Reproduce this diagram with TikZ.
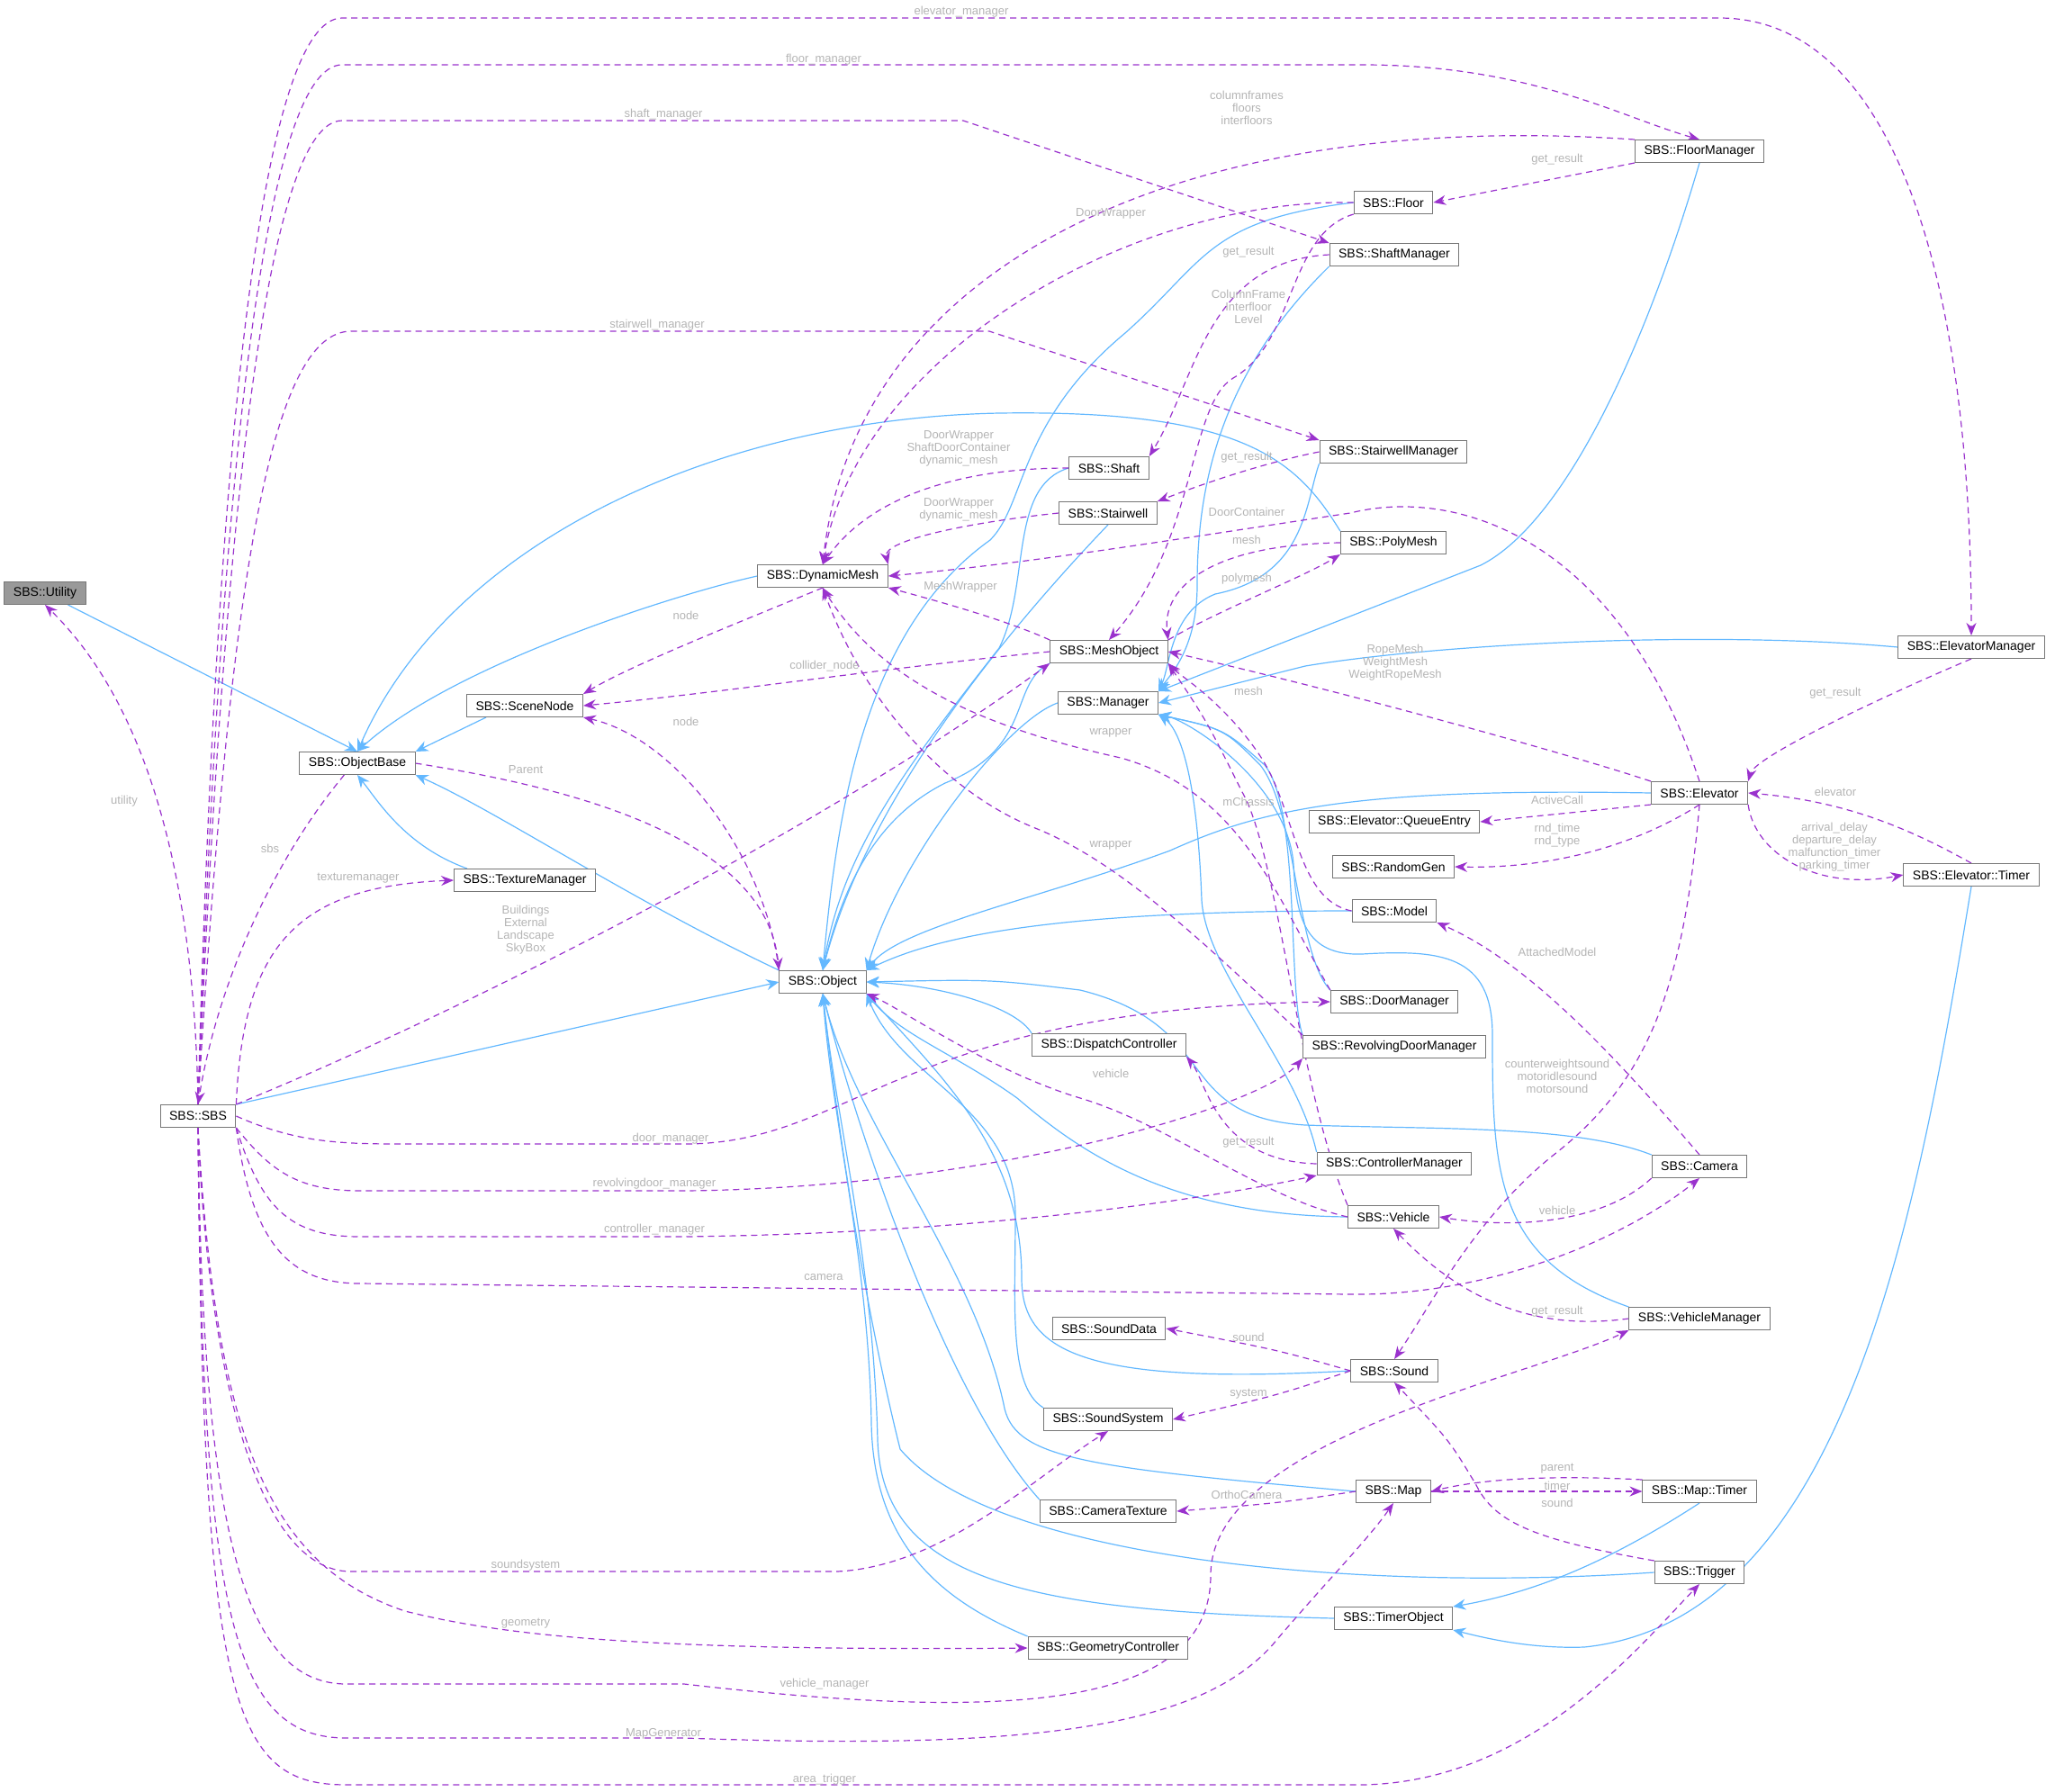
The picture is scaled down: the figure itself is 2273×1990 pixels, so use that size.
\documentclass[tikz,border=0pt]{standalone}
\usepackage{fontspec}
\setmainfont{Liberation Sans}
\usetikzlibrary{arrows.meta}
\pgfdeclarelayer{bg}
\pgfsetlayers{bg,main}
\definecolor{inh}{HTML}{63B8FF}
\definecolor{use}{HTML}{9A32CD}
\definecolor{lblc}{HTML}{B4B4B4}
\definecolor{bord}{HTML}{777777}
\tikzset{
 cls/.style={draw=bord,line width=1pt,fill=white,font=\fontsize{14}{16}\selectfont,minimum height=25pt,inner xsep=10pt,inner ysep=2pt},
 inhe/.style={draw=inh,line width=1.2pt,-{Stealth[length=14pt,width=12pt,fill=inh]}},
 usee/.style={draw=use,line width=1.2pt,dash pattern=on 7pt off 5pt,-{Stealth[length=14pt,width=11pt,fill=use]}},
 lbl/.style={font=\fontsize{13}{14}\selectfont,text=lblc,align=center,inner sep=0pt}
}
\begin{document}
\begin{tikzpicture}[x=1pt,y=-1pt]
\useasboundingbox (0,0) rectangle (2273,1990);
% nodes
\node[cls,fill=bord!75] (Utility) at (50,659) {SBS::Utility};
\node[cls] (ObjectBase) at (397,848) {SBS::ObjectBase};
\node[cls] (SBS) at (220,1240) {SBS::SBS};
\node[cls] (SceneNode) at (583,784) {SBS::SceneNode};
\node[cls] (TextureManager) at (583,978) {SBS::TextureManager};
\node[cls] (DynamicMesh) at (914,640) {SBS::DynamicMesh};
\node[cls] (Object) at (914,1091) {SBS::Object};
\node[cls] (MeshObject) at (1232,724) {SBS::MeshObject};
\node[cls] (Manager) at (1231,781) {SBS::Manager};
\node[cls] (Floor) at (1548,225) {SBS::Floor};
\node[cls] (ShaftManager) at (1549,283) {SBS::ShaftManager};
\node[cls] (Shaft) at (1232,520) {SBS::Shaft};
\node[cls] (Stairwell) at (1231,570) {SBS::Stairwell};
\node[cls] (StairwellManager) at (1548,502) {SBS::StairwellManager};
\node[cls] (PolyMesh) at (1548,603) {SBS::PolyMesh};
\node[cls] (FloorManager) at (1888,168) {SBS::FloorManager};
\node[cls] (ElevatorManager) at (2190,719) {SBS::ElevatorManager};
\node[cls] (Elevator) at (1888,881) {SBS::Elevator};
\node[cls] (QueueEntry) at (1549,913) {SBS::Elevator::QueueEntry};
\node[cls] (RandomGen) at (1548,963) {SBS::RandomGen};
\node[cls] (ElevTimer) at (2190,972) {SBS::Elevator::Timer};
\node[cls] (Model) at (1549,1012) {SBS::Model};
\node[cls] (DoorManager) at (1549,1113) {SBS::DoorManager};
\node[cls] (DispatchController) at (1232,1161) {SBS::DispatchController};
\node[cls] (RevDoorManager) at (1549,1163) {SBS::RevolvingDoorManager};
\node[cls] (ControllerManager) at (1549,1293) {SBS::ControllerManager};
\node[cls] (Camera) at (1888,1296) {SBS::Camera};
\node[cls] (Vehicle) at (1548,1352) {SBS::Vehicle};
\node[cls] (VehicleManager) at (1888,1465) {SBS::VehicleManager};
\node[cls] (SoundData) at (1232,1476) {SBS::SoundData};
\node[cls] (Sound) at (1549,1523) {SBS::Sound};
\node[cls] (SoundSystem) at (1231,1577) {SBS::SoundSystem};
\node[cls] (Map) at (1548,1657) {SBS::Map};
\node[cls] (MapTimer) at (1888,1657) {SBS::Map::Timer};
\node[cls] (CameraTexture) at (1231,1679) {SBS::CameraTexture};
\node[cls] (Trigger) at (1888,1747) {SBS::Trigger};
\node[cls] (TimerObject) at (1548,1798) {SBS::TimerObject};
\node[cls] (GeometryController) at (1231,1831) {SBS::GeometryController};

\begin{pgfonlayer}{bg}
% ---------- inheritance ----------
\draw[inhe] (Utility.south east) ++(-20,0) coordinate (u1) (u1) -- (ObjectBase.north);
\draw[inhe] (SceneNode.south west) ++(22,0) coordinate (s1) (s1) -- (ObjectBase.north east);
\draw[inhe] (TextureManager.north west) ++(15,0) coordinate (t1) (t1) .. controls (450,940) and (420,890) .. (ObjectBase.south);
\draw[inhe] (DynamicMesh.west) .. controls (750,660) and (500,740) .. (ObjectBase.north);
\draw[inhe] (PolyMesh.north west) .. controls (1440,510) and (1380,455) .. (1110,459) .. controls (800,465) and (500,600) .. (ObjectBase.north);
\draw[inhe] (Object.north west) .. controls (700,1000) and (550,900) .. (ObjectBase.south east);
\draw[inhe] (SBS.north east) -- (Object.west);
\draw[inhe] (Floor.west) .. controls (1340,245) and (1340,290) .. (1250,370) .. controls (1130,470) and (1140,560) .. (1100,600) .. controls (960,700) and (930,900) .. (Object.north);
\draw[inhe] (Shaft.west) .. controls (1120,540) and (1145,650) .. (1110,720) .. controls (1000,860) and (935,950) .. (Object.north);
\draw[inhe] (Stairwell.south) .. controls (1100,720) and (960,900) .. (Object.north);
\draw[inhe] (MeshObject.south west) .. controls (1120,760) and (1150,830) .. (1050,870) .. controls (970,910) and (935,990) .. (Object.north);
\draw[inhe] (Manager.west) .. controls (1120,800) and (1000,950) .. (Object.north east);
\draw[inhe] (Elevator.west) .. controls (1500,875) and (1400,900) .. (1300,945) .. controls (1150,1000) and (1000,1030) .. (Object.north east);
\draw[inhe] (Model.west) .. controls (1200,1012) and (1050,1035) .. (Object.north east);
\draw[inhe] (DispatchController.north west) .. controls (1130,1120) and (1050,1095) .. (Object.east);
\draw[inhe] (Camera.north west) .. controls (1750,1250) and (1600,1255) .. (1450,1250) .. controls (1300,1240) and (1360,1140) .. (1200,1100) .. controls (1100,1088) .. (Object.east);
\draw[inhe] (Vehicle.west) .. controls (1300,1350) and (1200,1280) .. (1130,1220) .. controls (1060,1170) and (1000,1150) .. (Object.south east);
\draw[inhe] (Sound.west) .. controls (1200,1540) and (1135,1500) .. (1135,1420) .. controls (1135,1280) and (1050,1200) .. (Object.south east);
\draw[inhe] (SoundSystem.north west) .. controls (1120,1540) and (1128,1450) .. (1128,1350) .. controls (1128,1230) and (1000,1200) .. (Object.south east);
\draw[inhe] (CameraTexture.north west) .. controls (1050,1550) and (950,1250) .. (Object.south);
\draw[inhe] (Map.west) .. controls (1200,1630) and (1125,1620) .. (1115,1560) .. controls (1080,1400) and (950,1250) .. (Object.south);
\draw[inhe] (Trigger.west) .. controls (1500,1770) and (1100,1730) .. (1000,1610) .. controls (960,1450) and (930,1250) .. (Object.south);
\draw[inhe] (TimerObject.west) .. controls (1150,1790) and (980,1760) .. (975,1600) .. controls (970,1400) and (930,1250) .. (Object.south);
\draw[inhe] (GeometryController.north west) .. controls (1050,1780) and (970,1720) .. (968,1580) .. controls (965,1400) and (925,1250) .. (Object.south);
\draw[inhe] (ShaftManager.south west) .. controls (1350,420) and (1330,550) .. (1330,650) .. controls (1330,720) and (1300,750) .. (Manager.north east);
\draw[inhe] (StairwellManager.south west) .. controls (1450,560) and (1450,640) .. (1350,660) .. controls (1300,680) and (1300,740) .. (Manager.north east);
\draw[inhe] (FloorManager.south) .. controls (1830,380) and (1740,580) .. (1645,628) -- (Manager.north east);
\draw[inhe] (ElevatorManager.west) .. controls (1900,700) and (1600,715) .. (1450,740) -- (Manager.east);
\draw[inhe] (DoorManager.north west) .. controls (1440,1060) and (1440,900) .. (1400,850) .. controls (1360,810) .. (Manager.south east);
\draw[inhe] (RevDoorManager.north west) .. controls (1430,1100) and (1445,900) .. (1405,850) .. controls (1360,810) .. (Manager.south east);
\draw[inhe] (ControllerManager.north west) .. controls (1440,1180) and (1340,1080) .. (1335,1000) .. controls (1330,860) and (1310,810) .. (Manager.south east);
\draw[inhe] (VehicleManager.north west) .. controls (1660,1400) and (1658,1300) .. (1658,1150) .. controls (1658,1060) and (1600,1055) .. (1513,1060) .. controls (1450,1062) and (1440,1020) .. (1437,960) .. controls (1430,870) and (1320,800) .. (Manager.south east);
\draw[inhe] (MapTimer.south) .. controls (1780,1740) and (1700,1770) .. (TimerObject.north east);
\draw[inhe] (ElevTimer.south) .. controls (2130,1350) and (2050,1800) .. (1760,1830) .. controls (1700,1832) and (1650,1820) .. (TimerObject.south east);

% ---------- usage ----------
\draw[usee] (SBS.north) .. controls (215,900) and (130,750) .. (Utility.south);
\draw[usee] (ObjectBase.south west) ++(50,0) coordinate (o1) (o1) .. controls (300,960) and (240,1100) .. (SBS.north);
\draw[usee] (SBS.north) .. controls (240,500) and (290,20) .. (380,20) -- (1910,20) .. controls (2100,20) and (2190,300) .. (ElevatorManager.north);
\draw[usee] (SBS.north) .. controls (245,520) and (295,72) .. (380,72) -- (1513,72) .. controls (1700,72) and (1800,130) .. (FloorManager.north);
\draw[usee] (SBS.north) .. controls (250,540) and (300,134) .. (380,134) -- (1070,134) -- (ShaftManager.north west);
\draw[usee] (SBS.north) .. controls (255,650) and (300,368) .. (390,368) -- (1099,368) -- (StairwellManager.north west);
\draw[usee] (SBS.north east) .. controls (270,1050) and (330,985) .. (TextureManager.west);
\draw[usee] (SBS.north east) .. controls (500,1130) and (900,930) .. (MeshObject.south west);
\draw[usee] (SBS.east) .. controls (330,1270) and (380,1271) .. (450,1271) -- (760,1271) .. controls (950,1271) and (1000,1120) .. (DoorManager.west);
\draw[usee] (SBS.south east) .. controls (300,1300) and (330,1323) .. (400,1323) -- (760,1323) .. controls (1100,1320) and (1400,1230) .. (RevDoorManager.south west);
\draw[usee] (SBS.south east) .. controls (290,1340) and (320,1374) .. (400,1374) -- (760,1374) .. controls (1100,1370) and (1350,1330) .. (ControllerManager.south west);
\draw[usee] (SBS.south east) .. controls (280,1380) and (320,1426) .. (400,1426) -- (1500,1438) .. controls (1650,1440) and (1800,1380) .. (Camera.south);
\draw[usee] (SBS.south) .. controls (230,1500) and (280,1746) .. (390,1746) -- (930,1746) .. controls (1050,1740) and (1150,1640) .. (SoundSystem.south);
\draw[usee] (SBS.south) .. controls (240,1600) and (300,1740) .. (450,1790) .. controls (550,1815) and (700,1835) .. (GeometryController.west);
\draw[usee] (SBS.south) .. controls (225,1700) and (270,1871) .. (385,1871) -- (760,1871) .. controls (1100,1910) and (1345,1905) .. (1345,1750) .. controls (1345,1600) and (1700,1530) .. (VehicleManager.south west);
\draw[usee] (SBS.south) .. controls (225,1800) and (260,1931) .. (385,1931) -- (760,1931) .. controls (1150,1945) and (1340,1920) .. (1420,1820) .. controls (1480,1750) and (1520,1710) .. (Map.south);
\draw[usee] (SBS.south) .. controls (225,1900) and (260,1983) .. (385,1983) -- (1513,1983) .. controls (1700,1980) and (1820,1830) .. (Trigger.south);
\draw[usee] (FloorManager.north west) .. controls (1300,120) and (950,300) .. (DynamicMesh.north);
\draw[usee] (FloorManager.south west) -- (Floor.east);
\draw[usee] (Floor.west) .. controls (1250,220) and (950,400) .. (DynamicMesh.north);
\draw[usee] (Floor.south west) .. controls (1430,260) and (1440,380) .. (1370,420) .. controls (1320,450) and (1330,600) .. (MeshObject.north);
\draw[usee] (ShaftManager.west) .. controls (1340,290) and (1330,420) .. (Shaft.north east);
\draw[usee] (Shaft.west) .. controls (1050,520) and (960,560) .. (DynamicMesh.north);
\draw[usee] (Stairwell.west) .. controls (1080,580) and (980,600) .. (DynamicMesh.north east);
\draw[usee] (StairwellManager.west) .. controls (1400,515) and (1330,540) .. (Stairwell.north east);
\draw[usee] (Elevator.north) .. controls (1800,600) and (1620,540) .. (1500,570) .. controls (1300,600) and (1150,625) .. (DynamicMesh.east);
\draw[usee] (PolyMesh.west) .. controls (1350,605) and (1290,650) .. (MeshObject.north east);
\draw[usee] (MeshObject.north east) .. controls (1350,680) and (1450,640) .. (PolyMesh.south west);
\draw[usee] (MeshObject.north west) .. controls (1120,690) and (1050,670) .. (DynamicMesh.south east);
\draw[usee] (DynamicMesh.south) .. controls (800,700) and (700,740) .. (SceneNode.north east);
\draw[usee] (MeshObject.west) .. controls (1000,740) and (800,770) .. (SceneNode.east);
\draw[usee] (Object.north west) .. controls (850,950) and (750,820) .. (SceneNode.south east);
\draw[usee] (ObjectBase.east) .. controls (600,870) and (850,920) .. (Object.north west);
\draw[usee] (ElevatorManager.south) .. controls (2100,770) and (1950,840) .. (Elevator.north east);
\draw[usee] (Elevator.north west) .. controls (1750,840) and (1500,770) .. (MeshObject.east);
\draw[usee] (Elevator.south west) -- (QueueEntry.east);
\draw[usee] (Elevator.south) .. controls (1800,950) and (1700,965) .. (RandomGen.east);
\draw[usee] (Elevator.south east) .. controls (1950,950) and (2020,990) .. (ElevTimer.west);
\draw[usee] (ElevTimer.north) .. controls (2120,920) and (2050,890) .. (Elevator.east);
\draw[usee] (Elevator.south) .. controls (1870,1100) and (1830,1200) .. (1730,1280) .. controls (1640,1350) and (1590,1450) .. (Sound.north);
\draw[usee] (Model.west) .. controls (1440,1000) and (1440,900) .. (1400,840) .. controls (1360,780) and (1310,750) .. (MeshObject.south east);
\draw[usee] (Camera.north) .. controls (1800,1180) and (1700,1070) .. (Model.south east);
\draw[usee] (DoorManager.north west) .. controls (1420,1000) and (1380,880) .. (1245,842) .. controls (1100,810) and (980,760) .. (DynamicMesh.south);
\draw[usee] (RevDoorManager.north west) .. controls (1350,1060) and (1250,960) .. (1150,920) .. controls (1050,880) and (960,780) .. (DynamicMesh.south);
\draw[usee] (Vehicle.north west) .. controls (1440,1200) and (1420,950) .. (1380,880) .. controls (1340,800) .. (MeshObject.south east);
\draw[usee] (Vehicle.west) .. controls (1400,1330) and (1300,1250) .. (1200,1220) .. controls (1100,1190) and (1000,1120) .. (Object.south east);
\draw[usee] (ControllerManager.west) .. controls (1350,1290) and (1340,1200) .. (DispatchController.south east);
\draw[usee] (Camera.south west) .. controls (1780,1360) and (1680,1365) .. (Vehicle.east);
\draw[usee] (VehicleManager.west) .. controls (1700,1480) and (1620,1440) .. (Vehicle.south);
\draw[usee] (Sound.west) .. controls (1420,1500) .. (SoundData.east);
\draw[usee] (Sound.west) .. controls (1420,1550) .. (SoundSystem.east);
\draw[usee] (MapTimer.north west) .. controls (1750,1640) and (1660,1640) .. (Map.east);
\draw[usee] (Map.east) -- (MapTimer.west);
\draw[usee] (Map.west) .. controls (1420,1670) .. (CameraTexture.east);
\draw[usee] (Trigger.north west) .. controls (1700,1710) and (1660,1690) .. (1640,1650) .. controls (1610,1600) .. (Sound.south);
\end{pgfonlayer}

% ---------- labels ----------
\node[lbl] (L1) at (138,890) {utility};
\node[lbl] (L2) at (300,943) {sbs};
\node[lbl] (L3) at (1068,13) {elevator\_manager};
\node[lbl] (L4) at (915,66) {floor\_manager};
\node[lbl] (L5) at (737,127) {shaft\_manager};
\node[lbl] (L6) at (730,361) {stairwell\_manager};
\node[lbl] (L7) at (398,976) {texturemanager};
\node[lbl] (L8) at (584,1033) {Buildings\\External\\Landscape\\SkyBox};
\node[lbl] (L9) at (745,1265) {door\_manager};
\node[lbl] (L10) at (727,1315) {revolvingdoor\_manager};
\node[lbl] (L11) at (727,1366) {controller\_manager};
\node[lbl] (L12) at (915,1419) {camera};
\node[lbl] (L13) at (584,1739) {soundsystem};
\node[lbl] (L14) at (584,1804) {geometry};
\node[lbl] (L15) at (916,1871) {vehicle\_manager};
\node[lbl] (L16) at (737,1926) {MapGenerator};
\node[lbl] (L17) at (916,1977) {area\_trigger};
\node[lbl] (L18) at (1385,120) {columnframes\\floors\\interfloors};
\node[lbl] (L19) at (1730,177) {get\_result};
\node[lbl] (L20) at (1234,237) {DoorWrapper};
\node[lbl] (L21) at (1387,280) {get\_result};
\node[lbl] (L22) at (1387,341) {ColumnFrame\\Interfloor\\Level};
\node[lbl] (L23) at (1065,498) {DoorWrapper\\ShaftDoorContainer\\dynamic\_mesh};
\node[lbl] (L24) at (1065,566) {DoorWrapper\\dynamic\_mesh};
\node[lbl] (L25) at (1385,508) {get\_result};
\node[lbl] (L26) at (1385,569) {DoorContainer};
\node[lbl] (L27) at (1385,600) {mesh};
\node[lbl] (L28) at (1385,643) {polymesh};
\node[lbl] (L29) at (1067,652) {MeshWrapper};
\node[lbl] (L30) at (762,684) {node};
\node[lbl] (L31) at (916,740) {collider\_node};
\node[lbl] (L32) at (762,802) {node};
\node[lbl] (L33) at (584,855) {Parent};
\node[lbl] (L34) at (2039,770) {get\_result};
\node[lbl] (L35) at (1550,736) {RopeMesh\\WeightMesh\\WeightRopeMesh};
\node[lbl] (L36) at (1730,889) {ActiveCall};
\node[lbl] (L37) at (1730,928) {rnd\_time\\rnd\_type};
\node[lbl] (L38) at (2038,941) {arrival\_delay\\departure\_delay\\malfunction\_timer\\parking\_timer};
\node[lbl] (L39) at (2039,880) {elevator};
\node[lbl] (L40) at (1730,1196) {counterweightsound\\motoridlesound\\motorsound};
\node[lbl] (L41) at (1387,768) {mesh};
\node[lbl] (L42) at (1730,1058) {AttachedModel};
\node[lbl] (L43) at (1234,814) {wrapper};
\node[lbl] (L44) at (1234,939) {wrapper};
\node[lbl] (L45) at (1387,891) {mChassis};
\node[lbl] (L46) at (1234,1193) {vehicle};
\node[lbl] (L47) at (1387,1269) {get\_result};
\node[lbl] (L48) at (1730,1345) {vehicle};
\node[lbl] (L49) at (1730,1457) {get\_result};
\node[lbl] (L50) at (1387,1486) {sound};
\node[lbl] (L51) at (1387,1549) {system};
\node[lbl] (L52) at (1730,1632) {parent};
\node[lbl] (L53) at (1730,1651) {timer};
\node[lbl] (L54) at (1385,1661) {OrthoCamera};
\node[lbl] (L55) at (1730,1670) {sound};
\end{tikzpicture}
\end{document}
